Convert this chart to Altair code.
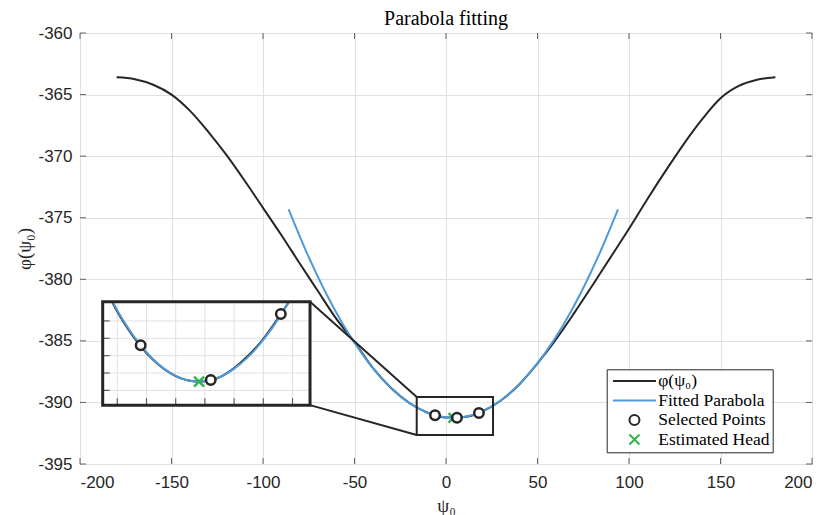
import altair as alt
import pandas as pd

# ---------------- data ----------------
# measured curve phi(psi0)
PSI = list(range(-180, 181, 10))
PHI = [-363.6, -363.75, -364.2, -365.0, -366.3, -368.0, -369.9, -372.0, -374.2, -376.4,
       -378.7, -380.95, -383.2, -385.1, -387.2, -388.83, -390.05, -390.84, -391.22, -391.18,
       -390.72, -389.84, -388.54, -386.83, -384.9, -382.75, -380.5, -378.2, -375.9, -373.5,
       -371.2, -369.0, -367.0, -365.3, -364.3, -363.8, -363.6]

# fitted parabola
FIT_PSI = [-86, -76, -66, -56, -46, -36, -26, -16, -6, 4, 14, 24, 34, 44, 54, 64, 74, 84, 94]
FIT_PHI = [-374.32, -377.87, -381.01, -383.73, -386.02, -387.91, -389.37, -390.41, -391.04, -391.25,
           -391.04, -390.41, -389.37, -387.91, -386.02, -383.73, -381.01, -377.87, -374.32]

# selected points and estimated head
SEL_PSI = [-6, 6, 18]
SEL_PHI = [-391.04, -391.24, -390.86]
HEAD_PSI = [4.0]
HEAD_PHI = [-391.25]

# zoomed (inset) view
ZOOM_PSI = [-10.8, -10, -8, -6, -4, -2, 0, 2, 4, 6, 8, 10, 12, 14, 16, 18, 19.4]
ZOOM_FIT = [-390.79, -390.84, -390.949, -391.041, -391.116, -391.175, -391.217, -391.242, -391.25,
            -391.242, -391.217, -391.175, -391.12, -391.05, -390.965, -390.865, -390.79]
ZOOM_PHI = [-390.795, -390.846, -390.955, -391.046, -391.12, -391.177, -391.218, -391.242, -391.25,
            -391.242, -391.216, -391.172, -391.114, -391.044, -390.958, -390.86, -390.79]

X_TICKS = [-200, -150, -100, -50, 0, 50, 100, 150, 200]
Y_TICKS = [-395, -390, -385, -380, -375, -370, -365, -360]
ZX_GRID = [-10, -5, 0, 5, 10, 15, 20]
ZY_GRID = [-390.9, -391.0, -391.1, -391.2, -391.3]

LEG_LABELS = ["φ(ψ₀)", "Fitted Parabola", "Selected Points", "Estimated Head"]

# ---------------- layout / style ----------------
W, H = 732, 431
XDOM = [-200, 200]
YDOM = [-395, -360]
INSET_POS = {"x0": -187.6, "x1": -74.3, "y0": -390.22, "y1": -381.83}  # inset frame in main units
ZOOM_X = [-12.5, 23.0]
ZOOM_Y = [-391.385, -390.79]
RECT_X = [-16.0, 25.7]
RECT_Y = [-392.65, -389.55]

DARK = "#262626"
BLUE = "#4d99d9"
GREEN = "#33b34d"
GRID = "#e0e0e0"
SERIF = "Liberation Serif"
SANS = "Liberation Sans"
LINE_PATH = "M-4.3,0L4.3,0"
X_PATH = "M-1,-1L1,1M-1,1L1,-1"


def px_x(v):
    return (v - XDOM[0]) / (XDOM[1] - XDOM[0]) * W


def px_y(v):
    return (YDOM[1] - v) / (YDOM[1] - YDOM[0]) * H


xs = alt.Scale(domain=XDOM, nice=False, zero=False)
ys = alt.Scale(domain=YDOM, nice=False, zero=False)
zxs = alt.Scale(domain=ZOOM_X, range=[px_x(INSET_POS["x0"]), px_x(INSET_POS["x1"])], nice=False, zero=False)
zys = alt.Scale(domain=ZOOM_Y, range=[px_y(INSET_POS["y0"]), px_y(INSET_POS["y1"])], nice=False, zero=False)

black_df = pd.DataFrame({"x": PSI, "y": PHI})
fit_df = pd.DataFrame({"x": FIT_PSI, "y": FIT_PHI})
pts_df = pd.DataFrame({
    "x": HEAD_PSI + SEL_PSI,
    "y": HEAD_PHI + SEL_PHI,
    "series": [LEG_LABELS[3]] + [LEG_LABELS[2]] * len(SEL_PSI),
})
rect_df = pd.DataFrame({"x": [RECT_X[0]], "x2": [RECT_X[1]], "y": [RECT_Y[0]], "y2": [RECT_Y[1]]})
conn_df = pd.DataFrame({
    "x": [INSET_POS["x1"], INSET_POS["x1"]],
    "y": [INSET_POS["y1"], INSET_POS["y0"]],
    "x2": [RECT_X[0], RECT_X[0]],
    "y2": [RECT_Y[1], RECT_Y[0]],
})
xt_df = pd.DataFrame({"x": X_TICKS})
yt_df = pd.DataFrame({"y": Y_TICKS})
one = pd.DataFrame({"k": [0]})
zoom_df = pd.DataFrame({"x": ZOOM_PSI, "phi": ZOOM_PHI, "fit": ZOOM_FIT})
zsel_df = pd.DataFrame({"x": SEL_PSI, "y": SEL_PHI})
zhead_df = pd.DataFrame({"x": HEAD_PSI, "y": HEAD_PHI})
zxg_df = pd.DataFrame({"x": ZX_GRID})
zyg_df = pd.DataFrame({"y": ZY_GRID})

x_axis = alt.Axis(orient="bottom", values=X_TICKS, grid=True, gridColor=GRID, ticks=False, domain=False,
                  labelExpr="'' + datum.value", labelPadding=10,
                  title="ψ₀", titleFont=SERIF, titleFontSize=19, titleFontWeight="normal",
                  titleColor=DARK, titleX=W / 2, titleY=41, titleBaseline="middle", titleAlign="center")
y_axis = alt.Axis(orient="left", values=Y_TICKS, grid=True, gridColor=GRID, ticks=False, domain=False,
                  labelExpr="'' + datum.value", labelPadding=8,
                  title="φ(ψ₀)", titleFont=SERIF, titleFontSize=19, titleFontWeight="normal",
                  titleColor=DARK, titleX=-56, titleY=H / 2, titleAngle=270,
                  titleBaseline="middle", titleAlign="center")


def MX(f="x:Q"):
    return alt.X(f, scale=xs, axis=None)


def MY(f="y:Q"):
    return alt.Y(f, scale=ys, axis=None)


black = alt.Chart(black_df).mark_line(color=DARK, strokeWidth=2, interpolate="monotone").encode(
    x=alt.X("x:Q", scale=xs, axis=x_axis), y=alt.Y("y:Q", scale=ys, axis=y_axis))
fit = alt.Chart(fit_df).mark_line(color=BLUE, strokeWidth=2, interpolate="monotone").encode(
    x=MX(), y=MY())
rect = alt.Chart(rect_df).mark_rect(filled=False, stroke=DARK, strokeWidth=2).encode(
    x=MX(), x2="x2:Q", y=MY(), y2="y2:Q")
conn = alt.Chart(conn_df).mark_rule(color=DARK, strokeWidth=2).encode(
    x=MX(), x2="x2:Q", y=MY(), y2="y2:Q")

legend = alt.Legend(orient="none", legendX=526.7, legendY=336.3, title=None, direction="vertical",
                    fillColor="white", strokeColor=DARK, padding=3, rowPadding=0.5,
                    labelFont=SERIF, labelFontSize=17.5, labelColor="black",
                    symbolSize=100, symbolStrokeWidth=2, symbolOffset=16, labelOffset=15)
pts = alt.Chart(pts_df).mark_point(filled=False, fill="white", size=90, strokeWidth=2.5, opacity=1).encode(
    x=MX(), y=MY(),
    color=alt.Color("series:N", scale=alt.Scale(domain=LEG_LABELS, range=[DARK, BLUE, DARK, GREEN]), legend=legend),
    shape=alt.Shape("series:N", scale=alt.Scale(domain=LEG_LABELS, range=[LINE_PATH, LINE_PATH, "circle", X_PATH]), legend=legend),
)

bt = alt.Chart(xt_df).mark_tick(orient="vertical", size=6, thickness=1, yOffset=-3, color=DARK).encode(
    x=MX(), y=alt.Y(datum=YDOM[0], scale=ys, axis=None))
tt = alt.Chart(xt_df).mark_tick(orient="vertical", size=6, thickness=1, yOffset=3, color=DARK).encode(
    x=MX(), y=alt.Y(datum=YDOM[1], scale=ys, axis=None))
lt = alt.Chart(yt_df).mark_tick(orient="horizontal", size=6, thickness=1, xOffset=3, color=DARK).encode(
    y=MY(), x=alt.X(datum=XDOM[0], scale=xs, axis=None))
rt = alt.Chart(yt_df).mark_tick(orient="horizontal", size=6, thickness=1, xOffset=-3, color=DARK).encode(
    y=MY(), x=alt.X(datum=XDOM[1], scale=xs, axis=None))


# ---------------- inset ----------------
def ZX(f="x:Q"):
    return alt.X(f, scale=zxs, axis=None)


def ZY(f="y:Q"):
    return alt.Y(f, scale=zys, axis=None)


box_enc = dict(
    x=alt.X(datum=ZOOM_X[0], scale=zxs, axis=None), x2=alt.X2(datum=ZOOM_X[1]),
    y=alt.Y(datum=ZOOM_Y[0], scale=zys, axis=None), y2=alt.Y2(datum=ZOOM_Y[1]),
)
z_bg = alt.Chart(one).mark_rect(color="white").encode(**box_enc)
zgv = alt.Chart(zxg_df).mark_rule(color=GRID, strokeWidth=1).encode(
    x=ZX(), y=alt.Y(datum=ZOOM_Y[0], scale=zys, axis=None), y2=alt.Y2(datum=ZOOM_Y[1]))
zgh = alt.Chart(zyg_df).mark_rule(color=GRID, strokeWidth=1).encode(
    y=ZY(), x=alt.X(datum=ZOOM_X[0], scale=zxs, axis=None), x2=alt.X2(datum=ZOOM_X[1]))
zblack = alt.Chart(zoom_df).mark_line(color=DARK, strokeWidth=2, interpolate="monotone").encode(
    x=ZX(), y=ZY("phi:Q"))
zfit = alt.Chart(zoom_df).mark_line(color=BLUE, strokeWidth=2, interpolate="monotone").encode(
    x=ZX(), y=ZY("fit:Q"))
zhead = alt.Chart(zhead_df).mark_point(shape=X_PATH, filled=False, color=GREEN, size=100, strokeWidth=2.5, opacity=1).encode(
    x=ZX(), y=ZY())
zsel = alt.Chart(zsel_df).mark_point(shape="circle", filled=False, fill="white", color=DARK, size=90, strokeWidth=2.5, opacity=1).encode(
    x=ZX(), y=ZY())
zlt = alt.Chart(zyg_df).mark_tick(orient="horizontal", size=7, thickness=1.2, xOffset=3.5, color=DARK).encode(
    y=ZY(), x=alt.X(datum=ZOOM_X[0], scale=zxs, axis=None))
zbt = alt.Chart(zxg_df).mark_tick(orient="vertical", size=7, thickness=1.2, yOffset=-3.5, color=DARK).encode(
    x=ZX(), y=alt.Y(datum=ZOOM_Y[0], scale=zys, axis=None))
zframe = alt.Chart(one).mark_rect(filled=False, stroke=DARK, strokeWidth=3).encode(**box_enc)

chart = alt.layer(
    black, fit, rect, conn, pts, bt, tt, lt, rt,
    z_bg, zgv, zgh, zblack, zfit, zhead, zsel, zlt, zbt, zframe,
).resolve_scale(x="independent", y="independent").properties(
    width=W, height=H,
    title=alt.TitleParams("Parabola fitting", font=SERIF, fontSize=20, fontWeight="normal",
                          color="black", offset=-5, frame="group"),
    autosize=alt.AutoSizeParams(type="none"),
    padding={"left": 72, "top": 25, "right": 6, "bottom": 56},
).configure_view(stroke=DARK, strokeWidth=1).configure_axis(
    labelFont=SANS, labelFontSize=17, labelColor=DARK,
)

chart.save("out.html", embed_options={"renderer": "svg", "actions": False})
